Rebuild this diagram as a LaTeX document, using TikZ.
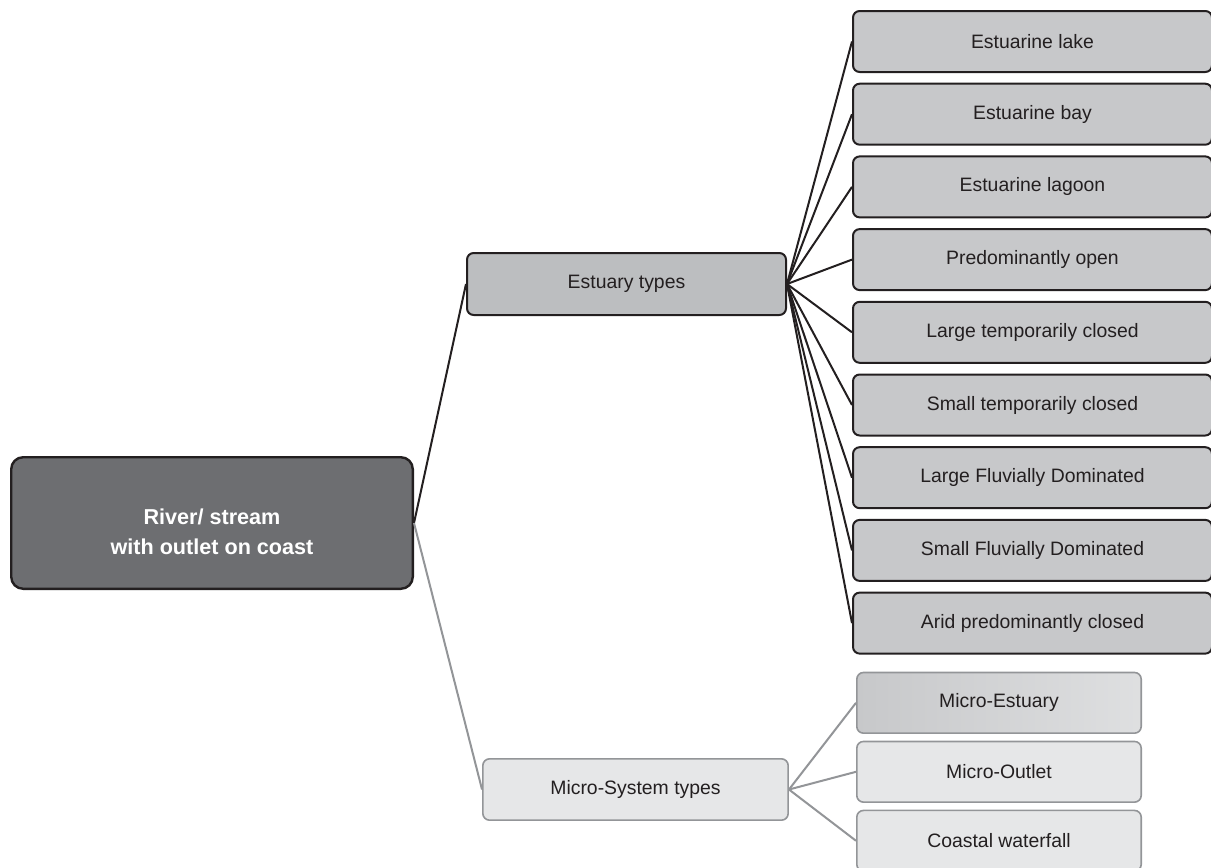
\documentclass[tikz,border=0pt]{standalone}
\usepackage{fontspec}
\setmainfont{Liberation Sans}
\usepackage{tikz}
\usetikzlibrary{positioning, calc}
\definecolor{rootgray}{HTML}{6D6E71}
\definecolor{linedark}{HTML}{231F20}
\definecolor{typegray}{HTML}{BCBEC0}
\definecolor{estgray}{HTML}{C7C8CA}
\definecolor{microgray}{HTML}{E6E7E8}
\definecolor{microline}{HTML}{939598}
\tikzset{rootbox/.style={draw=linedark, line width=1.8pt, fill=rootgray, rounded corners=9pt, minimum width=301.2pt, minimum height=98.7pt, text=white, align=center, font=\fontsize{16.2}{22.5}\selectfont\bfseries}}
\tikzset{typebox/.style={draw=linedark, line width=1.5pt, fill=typegray, rounded corners=5pt, minimum width=239.25pt, minimum height=46.5pt, text=linedark, font=\fontsize{14.55}{17}\selectfont}}
\tikzset{estbox/.style={typebox, fill=estgray, minimum width=269.25pt, minimum height=45.75pt}}
\tikzset{microtype/.style={typebox, draw=microline, line width=1.2pt, fill=microgray, minimum width=229pt, minimum height=46pt}}
\tikzset{microbox/.style={microtype, minimum width=213.3pt, minimum height=45.5pt}}
\tikzset{darklink/.style={draw=linedark, line width=1.5pt}}
\tikzset{lightlink/.style={draw=microline, line width=1.5pt}}

\begin{document}
\begin{tikzpicture}[x=0.75pt, y=0.75pt]

      \useasboundingbox (0,0) rectangle (1211,-868);

      % MAIN BOXES

      \node[rootbox] (root) at (212,-523) {\rule{0pt}{25.3pt}River/ stream\\with outlet on coast};
      \node[typebox] (est) at (626.5,-284) {Estuary types};
      \node[microtype] (mic) at (635.5,-789.5) {Micro-System types};

      % ESTUARY TYPES

      \node[estbox, anchor=north west] (e1) at (852,-10) {Estuarine lake};
      \node[estbox, anchor=north west] (e2) at ($(e1.south west)-(0,9.7)$) {Estuarine bay};
      \node[estbox, anchor=north west] (e3) at ($(e2.south west)-(0,9.7)$) {Estuarine lagoon};
      \node[estbox, anchor=north west] (e4) at ($(e3.south west)-(0,9.7)$) {Predominantly open};
      \node[estbox, anchor=north west] (e5) at ($(e4.south west)-(0,9.7)$) {Large temporarily closed};
      \node[estbox, anchor=north west] (e6) at ($(e5.south west)-(0,9.7)$) {Small temporarily closed};
      \node[estbox, anchor=north west] (e7) at ($(e6.south west)-(0,9.7)$) {Large Fluvially Dominated};
      \node[estbox, anchor=north west] (e8) at ($(e7.south west)-(0,9.7)$) {Small Fluvially Dominated};
      \node[estbox, anchor=north west] (e9) at ($(e8.south west)-(0,9.7)$) {Arid predominantly closed};

      % MICRO-SYSTEM TYPES

      \node[microbox, anchor=north west, left color=estgray, right color=microgray!75!estgray] (m1) at (856,-671.7) {Micro-Estuary};
      \node[microbox, anchor=north west] (m2) at ($(m1.south west)-(0,6.7)$) {Micro-Outlet};
      \node[microbox, anchor=north west] (m3) at ($(m2.south west)-(0,6.7)$) {Coastal waterfall};

      % LINKS
      \draw[darklink] (root.east) -- (est.west);
      \draw[lightlink] (root.east) -- (mic.west);
      \draw[darklink] (est.east) -- (e1.west);
      \draw[darklink] (est.east) -- (e2.west);
      \draw[darklink] (est.east) -- (e3.west);
      \draw[darklink] (est.east) -- (e4.west);
      \draw[darklink] (est.east) -- (e5.west);
      \draw[darklink] (est.east) -- (e6.west);
      \draw[darklink] (est.east) -- (e7.west);
      \draw[darklink] (est.east) -- (e8.west);
      \draw[darklink] (est.east) -- (e9.west);
      \draw[lightlink] (mic.east) -- (m1.west);
      \draw[lightlink] (mic.east) -- (m2.west);
      \draw[lightlink] (mic.east) -- (m3.west);

    \end{tikzpicture}
\end{document}
